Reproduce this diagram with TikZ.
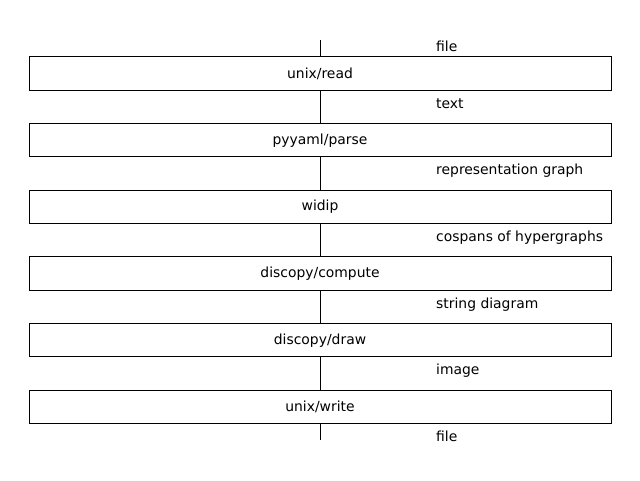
\documentclass[tikz,border=0pt]{standalone}
\usepackage{fontspec}
\setmainfont{DejaVu Sans}
\begin{document}
\begin{tikzpicture}[x=1pt,y=-1pt,
  boxst/.style={draw=black,line width=1pt,minimum width=582pt,minimum height=33.3pt,inner sep=0pt,font=\fontsize{13.9}{16}\selectfont},
  lbl/.style={anchor=base west,inner sep=0pt,font=\fontsize{13.9}{16}\selectfont},
  wire/.style={draw=black,line width=1pt}]
\useasboundingbox (0,0) rectangle (640,480);
\coordinate (top) at (320,40);
\coordinate (bot) at (320,440);
\node[boxst] (b1) at (320,73.5) {unix/read};
\node[boxst] (b2) at (320,140.2) {pyyaml/parse};
\node[boxst] (b3) at (320,206.8) {widip};
\node[boxst] (b4) at (320,273.5) {discopy/compute};
\node[boxst] (b5) at (320,340.2) {discopy/draw};
\node[boxst] (b6) at (320,406.8) {unix/write};
\draw[wire] (top) -- (b1.north);
\draw[wire] (b1.south) -- (b2.north);
\draw[wire] (b2.south) -- (b3.north);
\draw[wire] (b3.south) -- (b4.north);
\draw[wire] (b4.south) -- (b5.north);
\draw[wire] (b5.south) -- (b6.north);
\draw[wire] (b6.south) -- (bot);
\node[lbl] (l0) at (436,51) {file};
\node[lbl] (l1) at (436,108) {text};
\node[lbl] (l2) at (436,174.5) {representation graph};
\node[lbl] (l3) at (436,241) {cospans of hypergraphs};
\node[lbl] (l4) at (436,308) {string diagram};
\node[lbl] (l5) at (436,374.5) {image};
\node[lbl] (l6) at (436,441) {file};
\end{tikzpicture}
\end{document}
